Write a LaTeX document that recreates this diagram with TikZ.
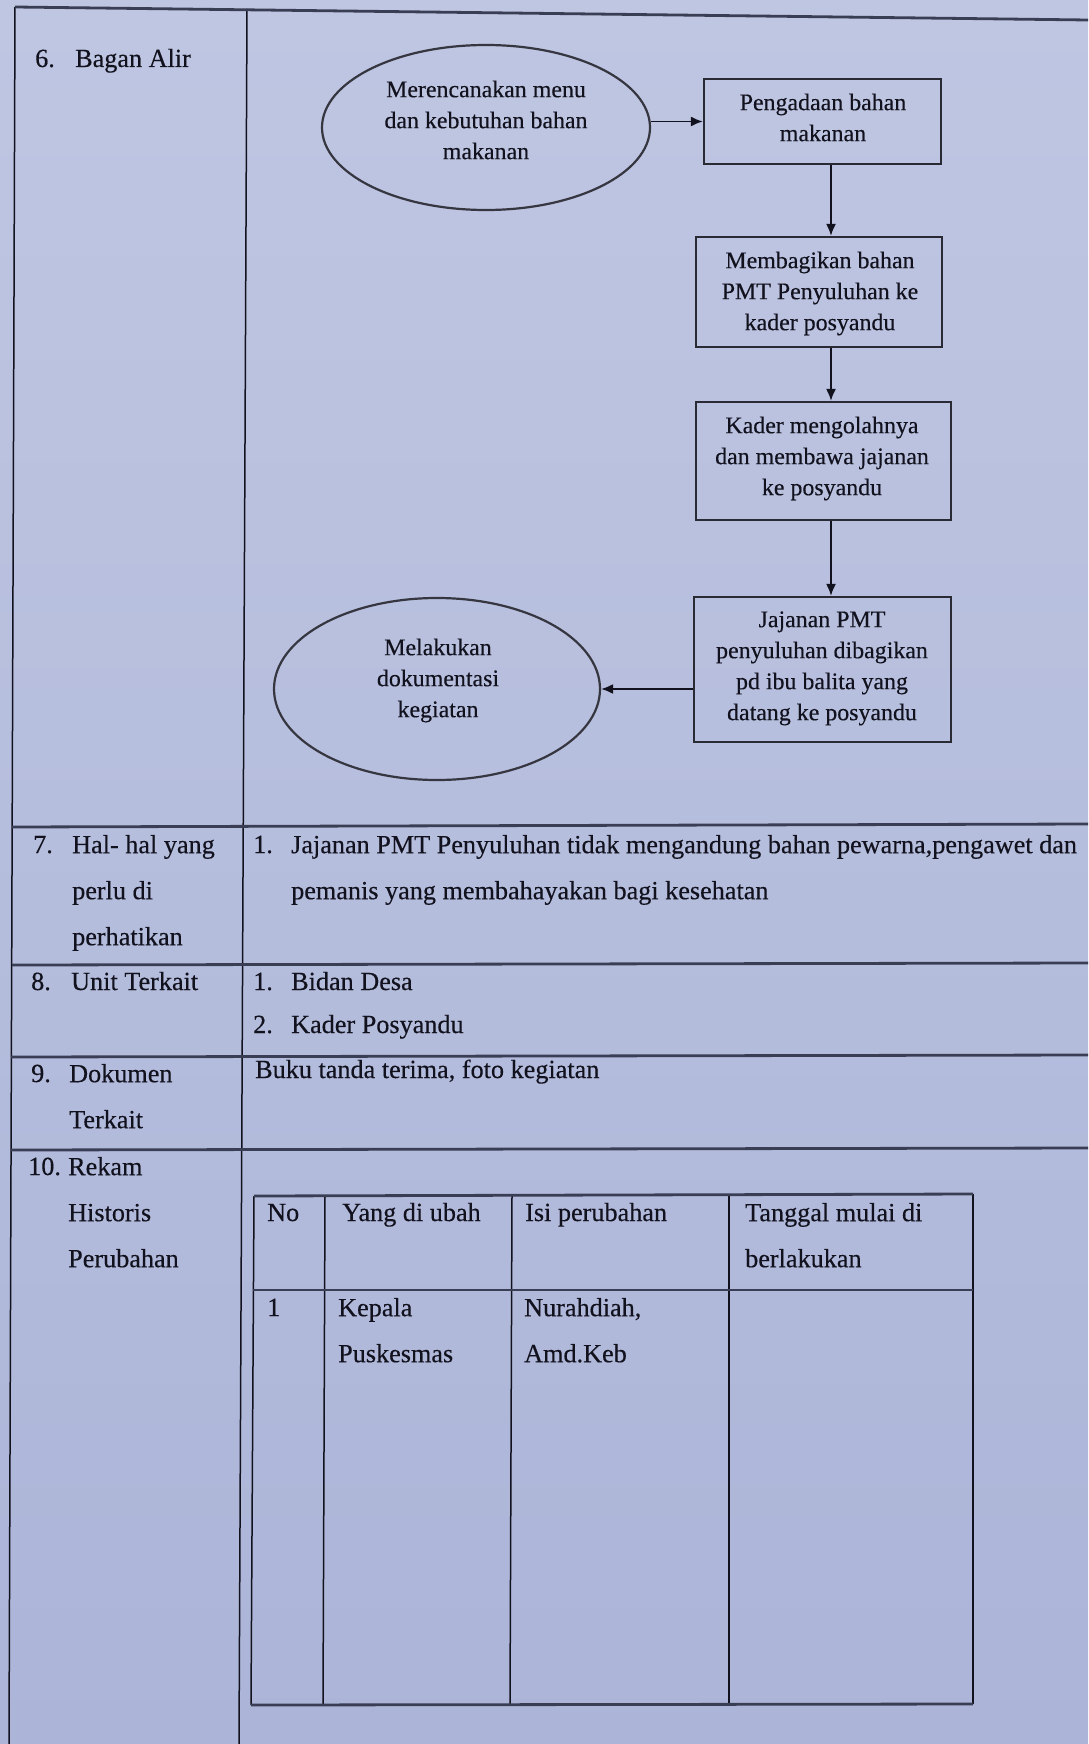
\documentclass[tikz,border=0pt]{standalone}
\usepackage{fontspec}
\setmainfont{Liberation Serif}[FakeBold=0.35]
\usetikzlibrary{shapes.geometric,arrows.meta}
\definecolor{papert}{RGB}{191,198,226}
\definecolor{paperb}{RGB}{172,181,216}
\definecolor{ink}{RGB}{18,18,30}
\definecolor{rulec}{RGB}{58,62,84}
\newcommand\tblf{\fontsize{26.2}{46}\selectfont}
\newcommand\flwf{\fontsize{23.9}{31}\selectfont}
\begin{document}
\begin{tikzpicture}[x=1pt,y=-1pt,
  tb/.style={font=\tblf, text=ink, inner sep=0pt, anchor=north west, align=left},
  tbs/.style={font=\tblf, text=ink, inner sep=0pt, anchor=base west},
  fl/.style={font=\flwf, text=ink, inner sep=0pt, anchor=north, align=center},
  hrule/.style={draw=rulec, line width=2.8pt},
  vrule/.style={draw=ink, line width=1.5pt},
  boxs/.style={draw=ink!90, line width=2.2pt, rectangle, inner sep=0pt},
  ell/.style={draw=ink!85, line width=2.2pt, ellipse, inner sep=0pt},
  arr/.style={draw=ink, line width=1.8pt, -{Latex[length=12pt,width=10pt]}}]
\useasboundingbox (0,0) rectangle (1088,1744);
\shade[top color=papert, bottom color=paperb] (0,0) rectangle (1088,1744);

% main table rules
\draw[vrule] (15,7) -- (9,1744);
\draw[vrule] (247,9) -- (239,1744);
\draw[hrule] (15,7) -- (1088,20);
\draw[hrule] (12,827) -- (1088,824);
\draw[hrule] (12,965) -- (1088,963);
\draw[hrule] (11,1057) -- (1088,1055);
\draw[hrule] (11,1150) -- (1088,1148);

% left column
\node[tbs] (n6) at (35,67) {6.};
\node[tbs] (t6) at (75,67) {Bagan Alir};
\node[tbs] (n7) at (33,853) {7.};
\node[tb] (t7) at (72,820.8) {\strut Hal- hal yang\\\strut perlu di\\\strut perhatikan};
\node[tbs] (n8) at (31,990) {8.};
\node[tbs] (t8) at (71,990) {Unit Terkait};
\node[tbs] (n9) at (31,1082) {9.};
\node[tb] (t9) at (69,1049.8) {\strut Dokumen\\\strut Terkait};
\node[tbs] (n10) at (28,1175) {10.};
\node[tb] (t10) at (68,1142.8) {\strut Rekam\\\strut Historis\\\strut Perubahan};

% right column
\node[tbs] (r7n) at (253,853) {1.};
\node[tb] (r7) at (291,820.8) {\strut Jajanan PMT Penyuluhan tidak mengandung bahan pewarna,pengawet dan\\\strut pemanis yang membahayakan bagi kesehatan};
\node[tbs] (r8an) at (253,990) {1.};
\node[tbs] (r8a) at (291,990) {Bidan Desa};
\node[tbs] (r8bn) at (253,1033) {2.};
\node[tbs] (r8b) at (291,1033) {Kader Posyandu};
\node[tbs] (r9) at (255,1078) {Buku tanda terima, foto kegiatan};

% inner table
\draw[vrule] (254,1196) -- (251,1705);
\draw[vrule] (325,1196) -- (323,1705);
\draw[vrule] (512,1196) -- (510,1705);
\draw[vrule] (729,1195) -- (729,1705);
\draw[vrule] (973,1194) -- (973,1704);
\draw[hrule] (254,1196) -- (973,1194);
\draw[hrule] (253,1290) -- (973,1290);
\draw[hrule] (251,1705) -- (973,1704);
\node[tbs] (hno) at (267,1221) {No};
\node[tbs] (hyd) at (342,1221) {Yang di ubah};
\node[tbs] (hisi) at (525,1221) {Isi perubahan};
\node[tb] (htgl) at (745,1188.8) {\strut Tanggal mulai di\\\strut berlakukan};
\node[tbs] (c1) at (267,1316) {1};
\node[tb] (c2) at (338,1283.8) {\strut Kepala\\\strut Puskesmas};
\node[tb] (c3) at (524,1283.8) {\strut Nurahdiah,\\\strut Amd.Keb};

% flowchart
\coordinate (ax) at (831,0);
\node[ell, minimum width=328pt, minimum height=165pt] (e1) at (486,127.5) {};
\node[fl] (e1t) at (486,75.3) {\strut Merencanakan menu\\\strut dan kebutuhan bahan\\\strut makanan};
\node[boxs, minimum width=237pt, minimum height=85pt] (b1) at (822.5,121.5) {};
\node[fl] (b1t) at (823,88.3) {\strut Pengadaan bahan\\\strut makanan};
\node[boxs, minimum width=246pt, minimum height=110pt] (b2) at (819,292) {};
\node[fl] (b2t) at (820,246.3) {\strut Membagikan bahan\\\strut PMT Penyuluhan ke\\\strut kader posyandu};
\node[boxs, minimum width=255pt, minimum height=118pt] (b3) at (823.5,461) {};
\node[fl] (b3t) at (822,411.3) {\strut Kader mengolahnya\\\strut dan membawa jajanan\\\strut ke posyandu};
\node[boxs, minimum width=257pt, minimum height=145pt] (b4) at (822.5,669.5) {};
\node[fl] (b4t) at (822,605.3) {\strut Jajanan PMT\\\strut penyuluhan dibagikan\\\strut pd ibu balita yang\\\strut datang ke posyandu};
\node[ell, minimum width=326pt, minimum height=182pt] (e2) at (437,689) {};
\node[fl] (e2t) at (438,633.3) {\strut Melakukan\\\strut dokumentasi\\\strut kegiatan};

\draw[arr] (e1.east |- b1.west) -- (b1.west);
\draw[arr] (b1.south -| ax) -- (b2.north -| ax);
\draw[arr] (b2.south -| ax) -- (b3.north -| ax);
\draw[arr] (b3.south -| ax) -- (b4.north -| ax);
\draw[arr] (b4.west |- e2.east) -- (e2.east);
\end{tikzpicture}
\end{document}
